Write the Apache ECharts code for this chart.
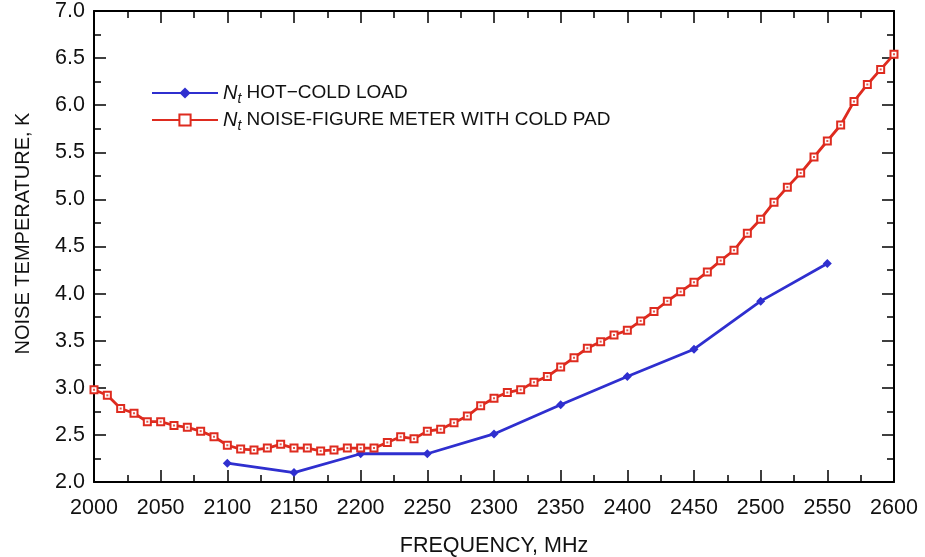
<!DOCTYPE html>
<html><head><meta charset="utf-8">
<script src="https://cdn.jsdelivr.net/npm/echarts@6/dist/echarts.min.js"></script>
<style>html,body{margin:0;padding:0;background:#fff}#c{width:925px;height:557px}</style>
</head><body><div id="c"></div>
<script>
const redFreq = [2000,2010,2020,2030,2040,2050,2060,2070,2080,2090,2100,2110,2120,2130,2140,2150,2160,2170,2180,2190,2200,2210,2220,2230,2240,2250,2260,2270,2280,2290,2300,2310,2320,2330,2340,2350,2360,2370,2380,2390,2400,2410,2420,2430,2440,2450,2460,2470,2480,2490,2500,2510,2520,2530,2540,2550,2560,2570,2580,2590,2600];
const redValues = [2.98,2.92,2.78,2.73,2.64,2.64,2.60,2.58,2.54,2.48,2.39,2.35,2.34,2.36,2.40,2.36,2.36,2.33,2.34,2.36,2.36,2.36,2.42,2.48,2.46,2.54,2.56,2.63,2.70,2.81,2.89,2.95,2.98,3.06,3.12,3.22,3.32,3.42,3.49,3.56,3.61,3.71,3.81,3.92,4.02,4.12,4.23,4.35,4.46,4.64,4.79,4.97,5.13,5.28,5.45,5.62,5.79,6.04,6.22,6.38,6.54];
const blueFreq = [2100,2150,2200,2250,2300,2350,2400,2450,2500,2550];
const blueValues = [2.20,2.10,2.30,2.30,2.51,2.82,3.12,3.41,3.92,4.32];
const xTicks = {min: 2000, max: 2600, step: 50};
const yTicks = {min: 2.0, max: 7.0, step: 0.5};
const blueName = 'HOT−COLD LOAD';
const redName = 'NOISE-FIGURE METER WITH COLD PAD';
const xTitle = 'FREQUENCY, MHz';
const yTitle = 'NOISE TEMPERATURE, K';

const BLUE = '#2f2fcf', RED = '#de2b1f', FONT = 'Liberation Sans, Arial, sans-serif';
const pairs = (xs, ys) => xs.map((x, i) => [x, ys[i]]);

const axisCommon = {
  axisLine: {show: true, onZero: false, lineStyle: {color: '#000', width: 2}},
  axisTick: {show: true, inside: true, length: 12, lineStyle: {color: '#000', width: 1.5}},
  minorTick: {show: true, splitNumber: 2, length: 7, lineStyle: {color: '#000', width: 1.5}},
  splitLine: {show: false}, minorSplitLine: {show: false}
};
function xAx(pos, labels) {
  return Object.assign({}, axisCommon, {
    type: 'value', position: pos, min: xTicks.min, max: xTicks.max, interval: xTicks.step,
    axisLabel: {show: labels, fontFamily: FONT, fontSize: 21.5, color: '#111', margin: 15,
      formatter: v => String(v)},
    name: labels ? xTitle : '', nameLocation: 'middle', nameGap: 53,
    nameTextStyle: {fontFamily: FONT, fontSize: 21.5, color: '#111'}
  });
}
function yAx(pos, labels) {
  return Object.assign({}, axisCommon, {
    type: 'value', position: pos, min: yTicks.min, max: yTicks.max, interval: yTicks.step,
    axisLabel: {show: labels, fontFamily: FONT, fontSize: 21.5, color: '#111', margin: 9,
      formatter: v => v.toFixed(1)},
    name: labels ? yTitle : '', nameLocation: 'middle', nameGap: 61, nameRotate: 90,
    nameTextStyle: {fontFamily: FONT, fontSize: 20, color: '#111', padding: [0, 0, 0, 26]}
  });
}

const chart = echarts.init(document.getElementById('c'), null, {renderer: 'canvas'});
chart.setOption({
  animation: false,
  backgroundColor: '#fff',
  grid: {left: 94, right: 31, top: 11, bottom: 75, containLabel: false, outerBoundsMode: 'none'},
  xAxis: [xAx('bottom', true), xAx('top', false)],
  yAxis: [yAx('left', true), yAx('right', false)],
  legend: {
    data: [blueName, redName], orient: 'vertical', left: 146, top: 78,
    itemWidth: 66, itemHeight: 14, itemGap: 4,
    formatter: name => '{n|N}{t|t} ' + name,
    textStyle: {fontFamily: FONT, fontSize: 19, color: '#111',
      rich: {
        n: {fontFamily: FONT, fontSize: 20, fontStyle: 'italic', color: '#111'},
        t: {fontFamily: FONT, fontSize: 14, fontStyle: 'italic', color: '#111', padding: [12, 0, 0, 0]}
      }}
  },
  series: [
    {name: blueName, type: 'line', data: pairs(blueFreq, blueValues), z: 3,
      symbol: 'diamond', symbolSize: 9, showAllSymbol: true,
      lineStyle: {color: BLUE, width: 2.8}, itemStyle: {color: BLUE}},
    {name: redName, type: 'line', data: pairs(redFreq, redValues), z: 4,
      symbol: 'rect', symbolSize: 7, showAllSymbol: true,
      lineStyle: {color: RED, width: 2.8}, itemStyle: {color: '#fff', borderColor: RED, borderWidth: 2}},
    {name: 'dots', type: 'scatter', data: pairs(redFreq, redValues), z: 5,
      symbol: 'rect', symbolSize: 2, itemStyle: {color: RED}, silent: true}
  ]
});
</script></body></html>
